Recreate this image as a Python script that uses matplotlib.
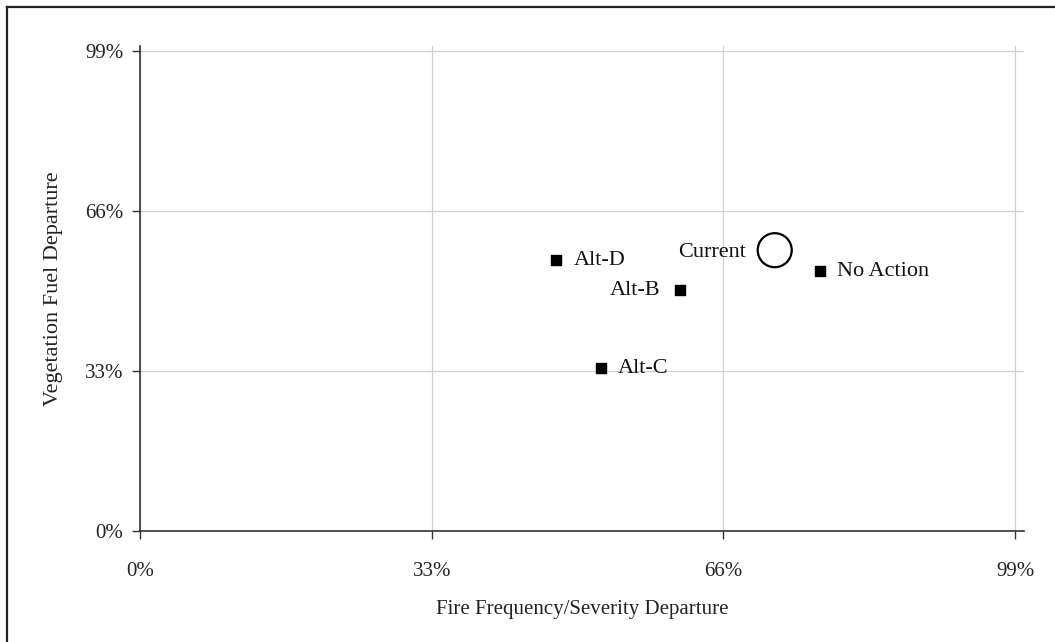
import matplotlib
matplotlib.use("Agg")
import matplotlib.pyplot as plt
from matplotlib.lines import Line2D

names = ["Alt-D", "Alt-B", "Alt-C", "No Action"]
fire = [47.1, 61.1, 52.1, 76.9]
veg = [55.8, 49.6, 33.6, 53.6]
current_name = "Current"
current_fire = [71.8]
current_veg = [57.9]
ticks = [0, 33, 66, 99]
tick_labels = ["0%", "33%", "66%", "99%"]

plt.rcParams['font.family'] = ['Liberation Serif', 'DejaVu Serif']

fig = plt.figure(figsize=(10.55, 6.42), dpi=100)
ax = fig.add_axes([140/1055, 1 - 531/642, 884/1055, 485/642])
ax.set_xlim(0, 100)
ax.set_ylim(0, 100)

ax.grid(True, color='#d0d0d0', linewidth=0.9)
ax.set_axisbelow(True)
ax.set_xticks(ticks)
ax.set_yticks(ticks)
ax.set_xticklabels(tick_labels, fontsize=15)
ax.set_yticklabels(tick_labels, fontsize=15)
ax.tick_params(direction='out', length=6, width=1.0, color='#333333', pad=16, labelcolor='#222222')
ax.tick_params(axis='y', pad=6)
for s in ['top', 'right']:
    ax.spines[s].set_visible(False)
for s in ['left', 'bottom']:
    ax.spines[s].set_color('#333333')
    ax.spines[s].set_linewidth(1.2)

ax.scatter(fire, veg, marker='s', s=60, color='black', zorder=3)
ax.scatter(current_fire, current_veg, marker='o', s=600, facecolors='none',
           edgecolors='black', linewidths=1.6, zorder=3)

offsets = {"Alt-D": (17, 'left'), "Alt-B": (-20, 'right'), "Alt-C": (17, 'left'),
           "No Action": (17, 'left')}
for n, x, y in zip(names, fire, veg):
    dx, ha = offsets[n]
    ax.annotate(n, (x, y), xytext=(dx * 0.72, 0), textcoords='offset points',
                ha=ha, va='center', fontsize=16, color='#111111')
ax.annotate(current_name, (current_fire[0], current_veg[0]), xytext=(-29 * 0.72, -2),
            textcoords='offset points', ha='right', va='center', fontsize=16, color='#111111')

ax.set_xlabel("Fire Frequency/Severity Departure", fontsize=15, labelpad=14, color='#222222')
ax.set_ylabel("Vegetation Fuel Departure", fontsize=16, labelpad=16, color='#222222')

fig.add_artist(Line2D([7/1055, 1], [1 - 7/642, 1 - 7/642], transform=fig.transFigure,
                      color='#222222', linewidth=1.6))
fig.add_artist(Line2D([7/1055, 7/1055], [0, 1 - 7/642], transform=fig.transFigure,
                      color='#222222', linewidth=1.6))

fig.savefig("out.png", dpi=100)
